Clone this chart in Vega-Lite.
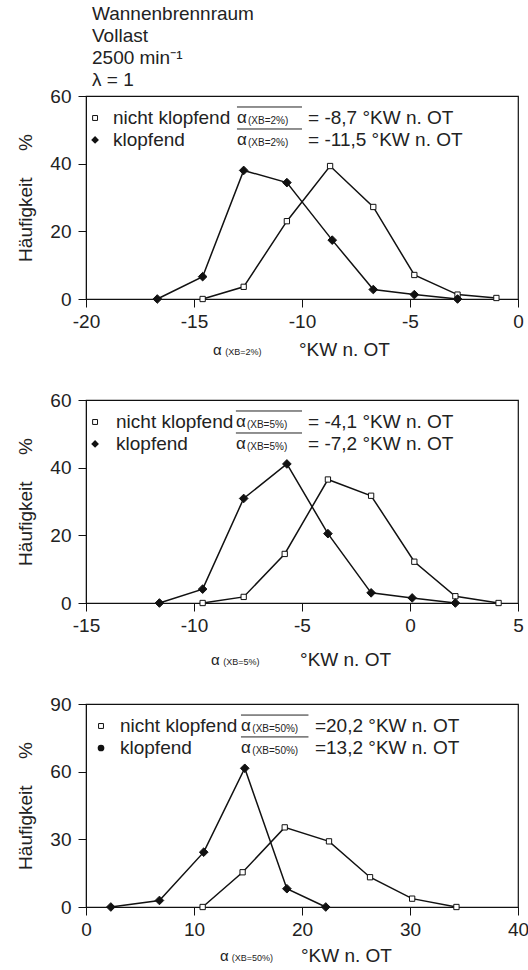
{
  "$schema": "https://vega.github.io/schema/vega-lite/v6.json",
  "background": "white",
  "padding": {"left": 16, "top": 4, "right": 0, "bottom": 0},
  "bounds": "flush",
  "spacing": 101,
  "config": {
    "font": "Liberation Sans",
    "view": {"stroke": "#111", "strokeWidth": 1.2},
    "axis": {
      "grid": false,
      "domainColor": "#111",
      "tickColor": "#111",
      "tickSize": 8,
      "labelFontSize": 19,
      "labelColor": "#222",
      "titleFontSize": 19,
      "titleFontWeight": "normal",
      "titleColor": "#222",
      "labelPadding": 5,
      "labelFlush": false,
      "labelOverlap": false,
      "labelExpr": "replace(datum.label, '\u2212', '-')"
    },
    "axisY": {"titlePadding": 14, "labelPadding": 7},
    "text": {"fontSize": 19, "color": "#222", "align": "left", "baseline": "middle"},
    "line": {"color": "#111", "strokeWidth": 1.5},
    "rule": {"color": "#222", "strokeWidth": 1}
  },
  "datasets": {
    "xb2": [
      {"Zustand": "nicht klopfend", "Winkel": -14.6, "Haeufigkeit": 0},
      {"Zustand": "nicht klopfend", "Winkel": -12.7, "Haeufigkeit": 3.6},
      {"Zustand": "nicht klopfend", "Winkel": -10.7, "Haeufigkeit": 23.0},
      {"Zustand": "nicht klopfend", "Winkel": -8.7, "Haeufigkeit": 39.3},
      {"Zustand": "nicht klopfend", "Winkel": -6.7, "Haeufigkeit": 27.2},
      {"Zustand": "nicht klopfend", "Winkel": -4.8, "Haeufigkeit": 7.1},
      {"Zustand": "nicht klopfend", "Winkel": -2.8, "Haeufigkeit": 1.3},
      {"Zustand": "nicht klopfend", "Winkel": -1.0, "Haeufigkeit": 0.3},
      {"Zustand": "klopfend", "Winkel": -16.7, "Haeufigkeit": 0},
      {"Zustand": "klopfend", "Winkel": -14.6, "Haeufigkeit": 6.6},
      {"Zustand": "klopfend", "Winkel": -12.7, "Haeufigkeit": 38.0},
      {"Zustand": "klopfend", "Winkel": -10.7, "Haeufigkeit": 34.4},
      {"Zustand": "klopfend", "Winkel": -8.6, "Haeufigkeit": 17.4},
      {"Zustand": "klopfend", "Winkel": -6.7, "Haeufigkeit": 2.8},
      {"Zustand": "klopfend", "Winkel": -4.8, "Haeufigkeit": 1.3},
      {"Zustand": "klopfend", "Winkel": -2.8, "Haeufigkeit": 0}
    ],
    "xb5": [
      {"Zustand": "nicht klopfend", "Winkel": -9.6, "Haeufigkeit": 0},
      {"Zustand": "nicht klopfend", "Winkel": -7.7, "Haeufigkeit": 1.8},
      {"Zustand": "nicht klopfend", "Winkel": -5.8, "Haeufigkeit": 14.5},
      {"Zustand": "nicht klopfend", "Winkel": -3.8, "Haeufigkeit": 36.5},
      {"Zustand": "nicht klopfend", "Winkel": -1.8, "Haeufigkeit": 31.7},
      {"Zustand": "nicht klopfend", "Winkel": 0.2, "Haeufigkeit": 12.2},
      {"Zustand": "nicht klopfend", "Winkel": 2.1, "Haeufigkeit": 2.0},
      {"Zustand": "nicht klopfend", "Winkel": 4.1, "Haeufigkeit": 0},
      {"Zustand": "klopfend", "Winkel": -11.6, "Haeufigkeit": 0},
      {"Zustand": "klopfend", "Winkel": -9.6, "Haeufigkeit": 4.1},
      {"Zustand": "klopfend", "Winkel": -7.7, "Haeufigkeit": 30.9},
      {"Zustand": "klopfend", "Winkel": -5.7, "Haeufigkeit": 41.1},
      {"Zustand": "klopfend", "Winkel": -3.8, "Haeufigkeit": 20.5},
      {"Zustand": "klopfend", "Winkel": -1.8, "Haeufigkeit": 3.0},
      {"Zustand": "klopfend", "Winkel": 0.1, "Haeufigkeit": 1.5},
      {"Zustand": "klopfend", "Winkel": 2.1, "Haeufigkeit": 0}
    ],
    "xb50": [
      {"Zustand": "nicht klopfend", "Winkel": 10.8, "Haeufigkeit": 0},
      {"Zustand": "nicht klopfend", "Winkel": 14.5, "Haeufigkeit": 15.4},
      {"Zustand": "nicht klopfend", "Winkel": 18.4, "Haeufigkeit": 35.3},
      {"Zustand": "nicht klopfend", "Winkel": 22.5, "Haeufigkeit": 29.1},
      {"Zustand": "nicht klopfend", "Winkel": 26.3, "Haeufigkeit": 13.2},
      {"Zustand": "nicht klopfend", "Winkel": 30.2, "Haeufigkeit": 3.7},
      {"Zustand": "nicht klopfend", "Winkel": 34.3, "Haeufigkeit": 0},
      {"Zustand": "klopfend", "Winkel": 2.3, "Haeufigkeit": 0},
      {"Zustand": "klopfend", "Winkel": 6.8, "Haeufigkeit": 2.9},
      {"Zustand": "klopfend", "Winkel": 10.9, "Haeufigkeit": 24.3},
      {"Zustand": "klopfend", "Winkel": 14.7, "Haeufigkeit": 61.5},
      {"Zustand": "klopfend", "Winkel": 18.6, "Haeufigkeit": 8.1},
      {"Zustand": "klopfend", "Winkel": 22.2, "Haeufigkeit": 0}
    ]
  },
  "vconcat": [
    {
      "width": 432,
      "height": 203,
      "title": {
        "text": ["Wannenbrennraum", "Vollast", "2500 min⁻¹", "λ = 1"],
        "anchor": "start",
        "frame": "group",
        "fontSize": 19,
        "fontWeight": "normal",
        "color": "#222",
        "lineHeight": 22,
        "dx": 6,
        "offset": -3
      },
      "data": {"values": [{}]},
      "layer": [
        {
          "data": {"name": "xb2"},
          "mark": {"type": "line"},
          "encoding": {
            "x": {"field": "Winkel", "type": "quantitative", "scale": {"domain": [-20, 0], "nice": false}, "axis": {"title": null, "values": [-20, -15, -10, -5, 0]}},
            "y": {"field": "Haeufigkeit", "type": "quantitative", "scale": {"domain": [0, 60], "nice": false}, "axis": {"title": "Häufigkeit\u00a0\u00a0\u00a0\u00a0\u00a0%", "values": [0, 20, 40, 60]}},
            "detail": {"field": "Zustand", "type": "nominal"}
          }
        },
        {
          "data": {"name": "xb2"},
          "mark": {"type": "point", "filled": true, "stroke": "#111", "strokeWidth": 1, "opacity": 1},
          "encoding": {
            "x": {"field": "Winkel", "type": "quantitative"},
            "y": {"field": "Haeufigkeit", "type": "quantitative"},
            "shape": {"field": "Zustand", "type": "nominal", "scale": {"domain": ["nicht klopfend", "klopfend"], "range": ["square", "diamond"]}, "legend": null},
            "fill": {"field": "Zustand", "type": "nominal", "scale": {"domain": ["nicht klopfend", "klopfend"], "range": ["white", "#111"]}, "legend": null},
            "size": {"field": "Zustand", "type": "nominal", "scale": {"domain": ["nicht klopfend", "klopfend"], "range": [28, 75]}, "legend": null}
          }
        },
        {"mark": {"type": "point", "shape": "square", "filled": true, "fill": "white", "stroke": "#111", "strokeWidth": 1, "size": 24, "opacity": 1}, "encoding": {"x": {"datum": -19.58}, "y": {"datum": 53.5}}},
        {"mark": {"type": "point", "shape": "diamond", "filled": true, "fill": "#111", "size": 60, "opacity": 1}, "encoding": {"x": {"datum": -19.58}, "y": {"datum": 47.0}}},
        {"mark": {"type": "text"}, "encoding": {"x": {"datum": -18.75}, "y": {"datum": 53.5}, "text": {"value": "nicht klopfend"}}},
        {"mark": {"type": "text"}, "encoding": {"x": {"datum": -18.75}, "y": {"datum": 47.0}, "text": {"value": "klopfend"}}},
        {"mark": {"type": "text", "fontSize": 17}, "encoding": {"x": {"datum": -13.01}, "y": {"datum": 53.5}, "text": {"value": "α"}}},
        {"mark": {"type": "text", "fontSize": 17}, "encoding": {"x": {"datum": -13.01}, "y": {"datum": 47.0}, "text": {"value": "α"}}},
        {"mark": {"type": "text", "fontSize": 10}, "encoding": {"x": {"datum": -12.5}, "y": {"datum": 52.6}, "text": {"value": "(XB=2%)"}}},
        {"mark": {"type": "text", "fontSize": 10}, "encoding": {"x": {"datum": -12.5}, "y": {"datum": 46.1}, "text": {"value": "(XB=2%)"}}},
        {"mark": {"type": "rule"}, "encoding": {"x": {"datum": -13.01}, "x2": {"datum": -10.0}, "y": {"datum": 56.75}}},
        {"mark": {"type": "rule"}, "encoding": {"x": {"datum": -13.01}, "x2": {"datum": -10.0}, "y": {"datum": 50.25}}},
        {"mark": {"type": "text"}, "encoding": {"x": {"datum": -9.72}, "y": {"datum": 53.5}, "text": {"value": "= -8,7 °KW n. OT"}}},
        {"mark": {"type": "text"}, "encoding": {"x": {"datum": -9.72}, "y": {"datum": 47.0}, "text": {"value": "= -11,5 °KW n. OT"}}},
        {"mark": {"type": "text", "fontSize": 15}, "encoding": {"x": {"datum": -14.12}, "y": {"datum": -15.1}, "text": {"value": "α"}}},
        {"mark": {"type": "text", "fontSize": 9}, "encoding": {"x": {"datum": -13.55}, "y": {"datum": -15.8}, "text": {"value": "(XB=2%)"}}},
        {"mark": {"type": "text"}, "encoding": {"x": {"datum": -10.14}, "y": {"datum": -15.1}, "text": {"value": "°KW n. OT"}}}
      ]
    },
    {
      "width": 432,
      "height": 203,
      "data": {"values": [{}]},
      "layer": [
        {
          "data": {"name": "xb5"},
          "mark": {"type": "line"},
          "encoding": {
            "x": {"field": "Winkel", "type": "quantitative", "scale": {"domain": [-15, 5], "nice": false}, "axis": {"title": null, "values": [-15, -10, -5, 0, 5]}},
            "y": {"field": "Haeufigkeit", "type": "quantitative", "scale": {"domain": [0, 60], "nice": false}, "axis": {"title": "Häufigkeit\u00a0\u00a0\u00a0\u00a0\u00a0%", "values": [0, 20, 40, 60]}},
            "detail": {"field": "Zustand", "type": "nominal"}
          }
        },
        {
          "data": {"name": "xb5"},
          "mark": {"type": "point", "filled": true, "stroke": "#111", "strokeWidth": 1, "opacity": 1},
          "encoding": {
            "x": {"field": "Winkel", "type": "quantitative"},
            "y": {"field": "Haeufigkeit", "type": "quantitative"},
            "shape": {"field": "Zustand", "type": "nominal", "scale": {"domain": ["nicht klopfend", "klopfend"], "range": ["square", "diamond"]}, "legend": null},
            "fill": {"field": "Zustand", "type": "nominal", "scale": {"domain": ["nicht klopfend", "klopfend"], "range": ["white", "#111"]}, "legend": null},
            "size": {"field": "Zustand", "type": "nominal", "scale": {"domain": ["nicht klopfend", "klopfend"], "range": [28, 75]}, "legend": null}
          }
        },
        {"mark": {"type": "point", "shape": "square", "filled": true, "fill": "white", "stroke": "#111", "strokeWidth": 1, "size": 24, "opacity": 1}, "encoding": {"x": {"datum": -14.58}, "y": {"datum": 53.5}}},
        {"mark": {"type": "point", "shape": "diamond", "filled": true, "fill": "#111", "size": 60, "opacity": 1}, "encoding": {"x": {"datum": -14.58}, "y": {"datum": 47.0}}},
        {"mark": {"type": "text"}, "encoding": {"x": {"datum": -13.61}, "y": {"datum": 53.5}, "text": {"value": "nicht klopfend"}}},
        {"mark": {"type": "text"}, "encoding": {"x": {"datum": -13.61}, "y": {"datum": 47.0}, "text": {"value": "klopfend"}}},
        {"mark": {"type": "text", "fontSize": 17}, "encoding": {"x": {"datum": -8.06}, "y": {"datum": 53.5}, "text": {"value": "α"}}},
        {"mark": {"type": "text", "fontSize": 17}, "encoding": {"x": {"datum": -8.06}, "y": {"datum": 47.0}, "text": {"value": "α"}}},
        {"mark": {"type": "text", "fontSize": 10}, "encoding": {"x": {"datum": -7.55}, "y": {"datum": 52.6}, "text": {"value": "(XB=5%)"}}},
        {"mark": {"type": "text", "fontSize": 10}, "encoding": {"x": {"datum": -7.55}, "y": {"datum": 46.1}, "text": {"value": "(XB=5%)"}}},
        {"mark": {"type": "rule"}, "encoding": {"x": {"datum": -8.06}, "x2": {"datum": -5.0}, "y": {"datum": 56.75}}},
        {"mark": {"type": "rule"}, "encoding": {"x": {"datum": -8.06}, "x2": {"datum": -5.0}, "y": {"datum": 50.25}}},
        {"mark": {"type": "text"}, "encoding": {"x": {"datum": -4.72}, "y": {"datum": 53.5}, "text": {"value": "= -4,1 °KW n. OT"}}},
        {"mark": {"type": "text"}, "encoding": {"x": {"datum": -4.72}, "y": {"datum": 47.0}, "text": {"value": "= -7,2 °KW n. OT"}}},
        {"mark": {"type": "text", "fontSize": 15}, "encoding": {"x": {"datum": -9.21}, "y": {"datum": -16.8}, "text": {"value": "α"}}},
        {"mark": {"type": "text", "fontSize": 9}, "encoding": {"x": {"datum": -8.65}, "y": {"datum": -17.5}, "text": {"value": "(XB=5%)"}}},
        {"mark": {"type": "text"}, "encoding": {"x": {"datum": -5.09}, "y": {"datum": -16.8}, "text": {"value": "°KW n. OT"}}}
      ]
    },
    {
      "width": 432,
      "height": 203,
      "data": {"values": [{}]},
      "layer": [
        {
          "data": {"name": "xb50"},
          "mark": {"type": "line"},
          "encoding": {
            "x": {"field": "Winkel", "type": "quantitative", "scale": {"domain": [0, 40], "nice": false}, "axis": {"title": null, "values": [0, 10, 20, 30, 40]}},
            "y": {"field": "Haeufigkeit", "type": "quantitative", "scale": {"domain": [0, 90], "nice": false}, "axis": {"title": "Häufigkeit\u00a0\u00a0\u00a0\u00a0\u00a0%", "values": [0, 30, 60, 90]}},
            "detail": {"field": "Zustand", "type": "nominal"}
          }
        },
        {
          "data": {"name": "xb50"},
          "mark": {"type": "point", "filled": true, "stroke": "#111", "strokeWidth": 1, "opacity": 1},
          "encoding": {
            "x": {"field": "Winkel", "type": "quantitative"},
            "y": {"field": "Haeufigkeit", "type": "quantitative"},
            "shape": {"field": "Zustand", "type": "nominal", "scale": {"domain": ["nicht klopfend", "klopfend"], "range": ["square", "diamond"]}, "legend": null},
            "fill": {"field": "Zustand", "type": "nominal", "scale": {"domain": ["nicht klopfend", "klopfend"], "range": ["white", "#111"]}, "legend": null},
            "size": {"field": "Zustand", "type": "nominal", "scale": {"domain": ["nicht klopfend", "klopfend"], "range": [28, 75]}, "legend": null}
          }
        },
        {"mark": {"type": "point", "shape": "square", "filled": true, "fill": "white", "stroke": "#111", "strokeWidth": 1, "size": 24, "opacity": 1}, "encoding": {"x": {"datum": 1.39}, "y": {"datum": 80.25}}},
        {"mark": {"type": "point", "shape": "circle", "filled": true, "fill": "#111", "size": 45, "opacity": 1}, "encoding": {"x": {"datum": 1.39}, "y": {"datum": 70.5}}},
        {"mark": {"type": "text"}, "encoding": {"x": {"datum": 3.15}, "y": {"datum": 80.25}, "text": {"value": "nicht klopfend"}}},
        {"mark": {"type": "text"}, "encoding": {"x": {"datum": 3.15}, "y": {"datum": 70.5}, "text": {"value": "klopfend"}}},
        {"mark": {"type": "text", "fontSize": 17}, "encoding": {"x": {"datum": 14.35}, "y": {"datum": 80.25}, "text": {"value": "α"}}},
        {"mark": {"type": "text", "fontSize": 17}, "encoding": {"x": {"datum": 14.35}, "y": {"datum": 70.5}, "text": {"value": "α"}}},
        {"mark": {"type": "text", "fontSize": 10}, "encoding": {"x": {"datum": 15.4}, "y": {"datum": 79.0}, "text": {"value": "(XB=50%)"}}},
        {"mark": {"type": "text", "fontSize": 10}, "encoding": {"x": {"datum": 15.4}, "y": {"datum": 69.3}, "text": {"value": "(XB=50%)"}}},
        {"mark": {"type": "rule"}, "encoding": {"x": {"datum": 14.35}, "x2": {"datum": 20.6}, "y": {"datum": 85.1}}},
        {"mark": {"type": "rule"}, "encoding": {"x": {"datum": 14.35}, "x2": {"datum": 20.6}, "y": {"datum": 75.4}}},
        {"mark": {"type": "text"}, "encoding": {"x": {"datum": 21.2}, "y": {"datum": 80.25}, "text": {"value": "=20,2 °KW n. OT"}}},
        {"mark": {"type": "text"}, "encoding": {"x": {"datum": 21.2}, "y": {"datum": 70.5}, "text": {"value": "=13,2 °KW n. OT"}}},
        {"mark": {"type": "text", "fontSize": 15}, "encoding": {"x": {"datum": 12.4}, "y": {"datum": -21.7}, "text": {"value": "α"}}},
        {"mark": {"type": "text", "fontSize": 9}, "encoding": {"x": {"datum": 13.5}, "y": {"datum": -22.7}, "text": {"value": "(XB=50%)"}}},
        {"mark": {"type": "text"}, "encoding": {"x": {"datum": 19.9}, "y": {"datum": -21.7}, "text": {"value": "°KW n. OT"}}}
      ]
    }
  ]
}
